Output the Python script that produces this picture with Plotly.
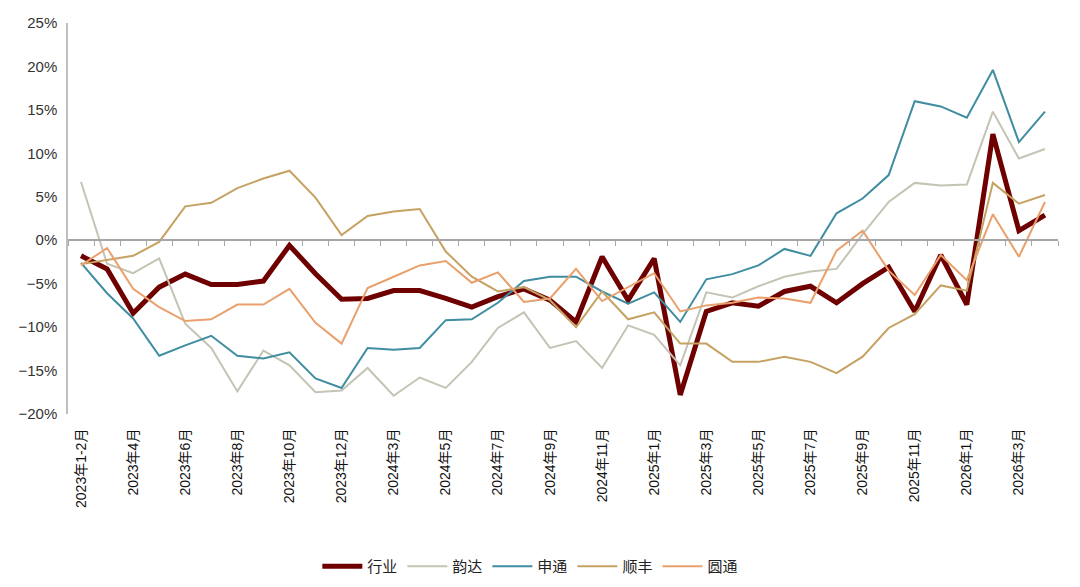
import plotly.graph_objects as go

# x categories: 2023-2024 merge Jan-Feb, 2025 onwards monthly
months = (
    ["2023年1-2月"] + [f"2023年{m}月" for m in range(3, 13)]
    + ["2024年1-2月"] + [f"2024年{m}月" for m in range(3, 13)]
    + [f"2025年{m}月" for m in range(1, 13)]
    + [f"2026年{m}月" for m in range(1, 5)]
)

hangye = [-1.8, -3.3, -8.4, -5.4, -3.9, -5.1, -5.1, -4.7, -0.6, -3.85, -6.8,
          -6.7, -5.8, -5.8, -6.7, -7.7, -6.5, -5.6, -6.9, -9.4, -1.9, -6.9,
          -2.1, -17.8, -8.2, -7.2, -7.6, -5.9, -5.3, -7.2, -5.0, -3.1, -8.2,
          -1.7, -7.4, 12.2, 1.1, 2.9]
yunda = [6.7, -2.7, -3.8, -2.1, -9.6, -12.4, -17.4, -12.7, -14.4, -17.5, -17.3,
         -14.7, -17.9, -15.8, -17.0, -14.0, -10.1, -8.3, -12.4, -11.6, -14.7, -9.8,
         -10.9, -14.4, -6.0, -6.6, -5.3, -4.2, -3.6, -3.3, 0.7, 4.4, 6.6,
         6.3, 6.4, 14.8, 9.4, 10.5]
shentong = [-2.6, -6.1, -9.0, -13.3, -12.1, -11.0, -13.3, -13.6, -12.9, -15.9, -17.0,
            -12.4, -12.6, -12.4, -9.2, -9.1, -7.2, -4.7, -4.2, -4.2, -5.9, -7.3,
            -6.0, -9.4, -4.5, -3.9, -2.9, -1.0, -1.8, 3.1, 4.8, 7.5, 16.0,
            15.4, 14.1, 19.6, 11.3, 14.8]
shunfeng = [-2.75, -2.25, -1.8, -0.2, 3.9, 4.3, 6.0, 7.1, 8.0, 4.9, 0.6,
            2.8, 3.3, 3.6, -1.3, -4.2, -5.9, -5.4, -6.9, -10.0, -5.9, -9.1,
            -8.3, -11.9, -11.9, -14.0, -14.0, -13.4, -14.0, -15.3, -13.4, -10.1, -8.5,
            -5.2, -5.8, 6.6, 4.2, 5.2]
yuantong = [-2.9, -0.9, -5.6, -7.7, -9.3, -9.1, -7.4, -7.4, -5.6, -9.5, -11.9,
            -5.5, -4.2, -2.9, -2.4, -4.9, -3.7, -7.1, -6.7, -3.3, -7.0, -5.4,
            -3.8, -8.2, -7.5, -7.2, -6.6, -6.7, -7.2, -1.2, 1.1, -3.5, -6.3,
            -1.7, -4.6, 3.0, -1.9, 4.4]

series = [
    ("行业", hangye, "#6e0000", 5),
    ("韵达", yunda, "#c4c3b4", 2),
    ("申通", shentong, "#3f8da1", 2),
    ("顺丰", shunfeng, "#c6a262", 2),
    ("圆通", yuantong, "#e9a06c", 2),
]

fig = go.Figure()
for name, vals, color, width in series:
    fig.add_trace(go.Scatter(
        x=months, y=[v / 100 for v in vals], name=name, mode="lines",
        line=dict(color=color, width=width)
    ))

# invisible trace so the zero-crossing axis gets drawn
fig.add_trace(go.Scatter(x=months, y=[0] * len(months), xaxis="x2", mode="lines",
                         line=dict(width=0), showlegend=False, hoverinfo="skip"))

yr = [-0.20, 0.25]
fig.update_layout(
    width=1080, height=587,
    margin=dict(l=60, r=30, t=15, b=179),
    plot_bgcolor="white", paper_bgcolor="white",
    font=dict(family="Liberation Sans, Arial, Noto Sans CJK SC", size=14, color="#333333"),
    showlegend=True,
    legend=dict(orientation="h", x=0.467, xanchor="center", y=-0.39, yanchor="middle",
                font=dict(size=15, color="#222222"), itemwidth=40, tracegroupgap=0),
    xaxis=dict(type="category", categoryorder="array", categoryarray=months,
               tickmode="array", tickvals=months[0::2], tickangle=-90,
               ticks="outside", ticklen=8, tickcolor="rgba(0,0,0,0)",
               showgrid=False, showline=False, zeroline=False, automargin=False,
               tickfont=dict(size=14, color="#111111"), range=[-0.5, len(months) - 0.5]),
    xaxis2=dict(type="category", categoryorder="array", categoryarray=months,
                overlaying="x", matches="x", anchor="free", automargin=False,
                position=(0 - yr[0]) / (yr[1] - yr[0]),
                showline=True, linecolor="#a6a6a6", linewidth=1.5,
                ticks="outside", tickson="boundaries", ticklen=5, tickcolor="#a6a6a6",
                tickmode="array", tickvals=months, showticklabels=False, showgrid=False),
    yaxis=dict(range=yr, tickformat=".0%", dtick=0.05, showgrid=False, zeroline=False,
               showline=True, linecolor="#bfbfbf", linewidth=1.5, ticks="",
               automargin=False, ticklabelstandoff=6,
               tickfont=dict(size=15, color="#333333")),
)

fig.write_html("out.html")
